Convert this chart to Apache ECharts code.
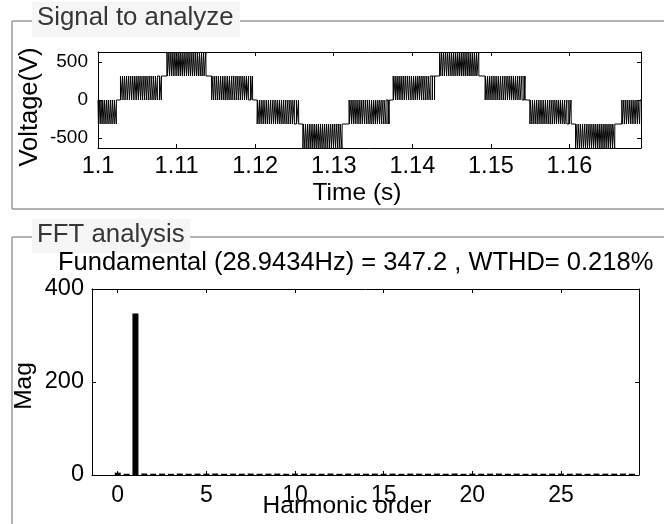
<!DOCTYPE html>
<html>
<head>
<meta charset="utf-8">
<script src="https://cdn.jsdelivr.net/npm/echarts@6/dist/echarts.min.js"></script>
<style>
  html, body { margin: 0; padding: 0; background: #fff; }
  #chart { width: 664px; height: 524px; }
</style>
</head>
<body>
<div id="chart"></div>
<script>
// ---- Signal window (switching instants in ms after 1.1 s) ----
const timeStart = 1.1;
const timeEnd = 1.1691;
const timeTicks = [1.1, 1.11, 1.12, 1.13, 1.14, 1.15, 1.16];
const voltTicks = [-500, 0, 500];
const voltMin = -630;
const voltMax = 630;

// The output starts on startLevel; inside each PWM segment it toggles between
// the level it entered on and that segment's alternate level.
const startLevel = 0;
const segAlt = [-315, 315, 630, 0, -315, -630, 0, 315, 630, 0, -315, -630, 0];
const segSwitch = [
  [0.05, 0.17, 0.28, 0.38, 0.52, 0.60, 0.77, 0.83, 1.02, 1.07, 1.28, 1.31, 1.54, 1.57, 1.80, 1.82, 2.07, 2.08, 2.33, 2.34],
  [2.86, 2.89, 3.12, 3.17, 3.38, 3.44, 3.64, 3.72, 3.90, 4.00, 4.16, 4.28, 4.42, 4.57, 4.68, 4.86, 4.94, 5.14, 5.20, 5.43, 5.46, 5.68, 5.73, 5.94, 5.98, 6.20, 6.23, 6.47, 6.50, 6.74, 6.76, 7.01, 7.03, 7.28, 7.30, 7.55, 7.56, 7.82, 7.84, 8.06, 8.08],
  [8.78, 8.82, 9.03, 9.10, 9.28, 9.38, 9.53, 9.66, 9.78, 9.94, 10.03, 10.21, 10.28, 10.48, 10.53, 10.74, 10.79, 11.00, 11.05, 11.27, 11.31, 11.53, 11.57, 11.78, 11.84, 12.03, 12.10, 12.28, 12.37, 12.53, 12.64, 12.77, 12.91, 13.01, 13.18, 13.25, 13.45, 13.50, 13.72, 13.75],
  [14.47, 14.50, 14.72, 14.78, 14.98, 15.05, 15.23, 15.32, 15.49, 15.60, 15.75, 15.88, 16.01, 16.16, 16.27, 16.45, 16.53, 16.73, 16.79, 17.02, 17.05, 17.28, 17.33, 17.55, 17.59, 17.81, 17.85, 18.08, 18.11, 18.35, 18.37, 18.62, 18.64, 18.89, 18.91, 19.16, 19.17, 19.43, 19.45, 19.66, 19.68],
  [20.26, 20.30, 20.51, 20.57, 20.77, 20.85, 21.03, 21.12, 21.29, 21.41, 21.55, 21.69, 21.81, 21.97, 22.07, 22.26, 22.33, 22.54, 22.59, 22.82, 22.86, 23.09, 23.13, 23.36, 23.40, 23.63, 23.66, 23.90, 23.93, 24.17, 24.19, 24.44, 24.46, 24.71, 24.73, 24.98, 24.99, 25.25, 25.27, 25.52, 25.54],
  [26.08, 26.12, 26.33, 26.40, 26.58, 26.68, 26.83, 26.96, 27.08, 27.24, 27.33, 27.52, 27.58, 27.79, 27.84, 28.05, 28.10, 28.32, 28.36, 28.58, 28.62, 28.84, 28.89, 29.09, 29.16, 29.34, 29.43, 29.59, 29.70, 29.83, 29.97, 30.07, 30.24, 30.32, 30.51, 30.57, 30.78, 30.81, 31.05, 31.07],
  [31.96, 31.99, 32.21, 32.27, 32.46, 32.54, 32.71, 32.81, 32.97, 33.09, 33.23, 33.36, 33.49, 33.64, 33.75, 33.93, 34.01, 34.21, 34.27, 34.49, 34.53, 34.76, 34.80, 35.03, 35.07, 35.30, 35.33, 35.57, 35.60, 35.84, 35.86, 36.11, 36.13, 36.38, 36.40, 36.65, 36.66, 36.92, 36.94, 37.05, 37.07],
  [37.57, 37.60, 37.82, 37.88, 38.07, 38.15, 38.32, 38.42, 38.58, 38.70, 38.84, 38.98, 39.10, 39.26, 39.36, 39.54, 39.62, 39.83, 39.88, 40.11, 40.15, 40.38, 40.42, 40.65, 40.69, 40.92, 40.95, 41.19, 41.22, 41.46, 41.48, 41.73, 41.75, 42.00, 42.02, 42.27, 42.28, 42.54, 42.56, 42.82, 42.84],
  [43.48, 43.52, 43.73, 43.80, 43.98, 44.08, 44.23, 44.36, 44.48, 44.64, 44.73, 44.92, 44.98, 45.19, 45.24, 45.45, 45.50, 45.72, 45.76, 45.98, 46.02, 46.24, 46.29, 46.49, 46.56, 46.74, 46.83, 46.99, 47.10, 47.23, 47.37, 47.47, 47.64, 47.72, 47.91, 47.97, 48.18, 48.21, 48.45, 48.47],
  [49.27, 49.30, 49.51, 49.57, 49.76, 49.84, 50.01, 50.11, 50.27, 50.39, 50.53, 50.66, 50.79, 50.94, 51.05, 51.23, 51.31, 51.51, 51.57, 51.79, 51.83, 52.06, 52.10, 52.33, 52.37, 52.60, 52.63, 52.87, 52.90, 53.14, 53.16, 53.41, 53.43, 53.68, 53.70, 53.95, 53.96, 54.22, 54.24, 54.34, 54.36],
  [54.97, 55.00, 55.22, 55.28, 55.47, 55.55, 55.72, 55.82, 55.98, 56.10, 56.24, 56.37, 56.50, 56.65, 56.76, 56.94, 57.02, 57.22, 57.28, 57.50, 57.54, 57.77, 57.81, 58.04, 58.08, 58.31, 58.34, 58.58, 58.61, 58.85, 58.87, 59.12, 59.14, 59.39, 59.41, 59.66, 59.67, 59.93, 59.95, 60.20, 60.22],
  [60.78, 60.82, 61.03, 61.10, 61.28, 61.38, 61.53, 61.66, 61.78, 61.94, 62.03, 62.22, 62.28, 62.49, 62.54, 62.75, 62.80, 63.02, 63.06, 63.28, 63.32, 63.54, 63.59, 63.79, 63.86, 64.04, 64.13, 64.29, 64.40, 64.53, 64.67, 64.77, 64.94, 65.02, 65.21, 65.27, 65.48, 65.51, 65.75, 65.77],
  [66.67, 66.70, 66.92, 66.98, 67.17, 67.25, 67.42, 67.52, 67.68, 67.80, 67.94, 68.07, 68.20, 68.35, 68.46, 68.64, 68.72, 68.92, 68.98]
];

// ---- FFT spectrum ----
const harmonicOrder = [0, 0.5, 1, 1.5, 2, 2.5, 3, 3.5, 4, 4.5, 5, 5.5, 6, 6.5, 7, 7.5, 8, 8.5, 9, 9.5,
  10, 10.5, 11, 11.5, 12, 12.5, 13, 13.5, 14, 14.5, 15, 15.5, 16, 16.5, 17, 17.5, 18, 18.5, 19, 19.5,
  20, 20.5, 21, 21.5, 22, 22.5, 23, 23.5, 24, 24.5, 25, 25.5, 26, 26.5, 27, 27.5, 28, 28.5, 29];
const magnitude = [5.0, 2.6, 347.2, 3.2, 2.8, 3.0, 2.6, 3.1, 2.7, 3.0, 2.9, 3.2, 2.6, 3.0, 2.8, 3.1, 2.7, 2.9, 3.0, 2.6,
  3.1, 2.8, 3.0, 2.7, 3.2, 2.6, 3.0, 2.9, 2.8, 3.1, 2.7, 3.0, 2.6, 3.1, 2.9, 2.8, 3.0, 2.7, 3.2, 2.6,
  3.0, 2.8, 2.9, 3.1, 2.7, 3.0, 2.6, 3.1, 2.8, 2.9, 3.0, 2.7, 3.1, 2.6, 3.0, 2.8, 2.9, 3.1, 2.7];
const harmonicTicks = [0, 5, 10, 15, 20, 25];
const magTicks = [0, 200, 400];
const fundamentalHz = '28.9434';
const fundamentalMag = 347.2;
const wthdPercent = '0.218';

// ---- build the stepped waveform from the switching instants ----
const signalPoints = [];
let level = startLevel;
signalPoints.push([timeStart, level]);
segSwitch.forEach((instants, k) => {
  const base = level;
  const alt = segAlt[k];
  instants.forEach(ms => {
    const t = timeStart + ms / 1000;
    signalPoints.push([t, level]);
    level = (level === base) ? alt : base;
    signalPoints.push([t, level]);
  });
});
signalPoints.push([timeEnd, level]);

const spectrum = harmonicOrder.map((h, i) => [h, magnitude[i]]);

const FONT = 'Liberation Sans, Arial, Helvetica, sans-serif';
const tickFont = size => ({ color: '#000', fontFamily: FONT, fontSize: size });
const blackLine = { show: true, onZero: false, lineStyle: { color: '#000', width: 1 } };
const fmtTime = v => String(Math.round(v * 100) / 100);
const innerTicks = vals => ({ inside: true, length: 4, customValues: vals, lineStyle: { color: '#000' } });

const chart = echarts.init(document.getElementById('chart'), null, { renderer: 'canvas' });

const frameColor = '#9a9a9a';
const frameLine = (x1, y1, x2, y2) => ({
  type: 'line', silent: true, z: 1,
  shape: { x1, y1, x2, y2 },
  style: { stroke: frameColor, lineWidth: 1.5 }
});
const labelBox = (x, y, w, h) => ({
  type: 'rect', silent: true, z: 3,
  shape: { x, y, width: w, height: h },
  style: { fill: '#f6f6f6' }
});
const text = (str, x, y, opts) => Object.assign({
  type: 'text', silent: true, z: 4, x, y,
  style: Object.assign({
    text: str, fill: '#000', fontFamily: FONT, fontSize: 24.5,
    align: 'center', verticalAlign: 'middle',
    textAlign: 'center', textVerticalAlign: 'middle'
  }, opts && opts.style)
}, opts && opts.el);

chart.setOption({
  animation: false,
  backgroundColor: '#fff',
  grid: [
    { left: 98, top: 52, width: 543, height: 96 },
    { left: 92, top: 289, width: 547, height: 186 }
  ],
  xAxis: [
    { type: 'value', gridIndex: 0, position: 'bottom', min: timeStart, max: timeEnd,
      axisLine: blackLine, splitLine: { show: false }, axisTick: innerTicks(timeTicks),
      axisLabel: Object.assign({ margin: 7, customValues: timeTicks, formatter: fmtTime }, tickFont(23.5)) },
    { type: 'value', gridIndex: 0, position: 'top', min: timeStart, max: timeEnd,
      axisLine: blackLine, splitLine: { show: false }, axisTick: innerTicks(timeTicks),
      axisLabel: { show: false } },
    { type: 'value', gridIndex: 1, position: 'bottom', min: -1.45, max: 29.4,
      axisLine: blackLine, splitLine: { show: false }, axisTick: innerTicks(harmonicTicks),
      axisLabel: Object.assign({ margin: 9, customValues: harmonicTicks }, tickFont(23)) },
    { type: 'value', gridIndex: 1, position: 'top', min: -1.45, max: 29.4,
      axisLine: blackLine, splitLine: { show: false }, axisTick: innerTicks(harmonicTicks),
      axisLabel: { show: false } }
  ],
  yAxis: [
    { type: 'value', gridIndex: 0, position: 'left', min: voltMin, max: voltMax,
      axisLine: blackLine, splitLine: { show: false }, axisTick: innerTicks(voltTicks),
      axisLabel: Object.assign({ margin: 10, customValues: voltTicks }, tickFont(19)) },
    { type: 'value', gridIndex: 0, position: 'right', min: voltMin, max: voltMax,
      axisLine: blackLine, splitLine: { show: false }, axisTick: innerTicks(voltTicks),
      axisLabel: { show: false } },
    { type: 'value', gridIndex: 1, position: 'left', min: 0, max: 400, interval: 200,
      axisLine: blackLine, splitLine: { show: false }, axisTick: innerTicks(magTicks),
      axisLabel: Object.assign({ margin: 8, customValues: magTicks }, tickFont(23.5)) },
    { type: 'value', gridIndex: 1, position: 'right', min: 0, max: 400, interval: 200,
      axisLine: blackLine, splitLine: { show: false }, axisTick: innerTicks(magTicks),
      axisLabel: { show: false } }
  ],
  series: [
    { type: 'line', name: 'signal', xAxisIndex: 0, yAxisIndex: 0, data: signalPoints,
      showSymbol: false, symbol: 'none', clip: true, sampling: null,
      lineStyle: { color: '#000', width: 1 } },
    { type: 'bar', name: 'spectrum', xAxisIndex: 2, yAxisIndex: 2, data: spectrum,
      barWidth: 6, itemStyle: { color: '#000' } }
  ],
  graphic: [
    // group frames
    frameLine(12, 21, 664, 21),
    frameLine(12, 21, 12, 209),
    frameLine(12, 209, 664, 209),
    frameLine(12, 237, 664, 237),
    frameLine(12, 237, 12, 524),
    // axis titles and spectrum headline
    text('Voltage(V)', 30, 107, { el: { rotation: Math.PI / 2 }, style: { fontSize: 25.5 } }),
    text('Time (s)', 357, 193),
    text('Mag', 24, 386, { el: { rotation: Math.PI / 2 } }),
    text('Harmonic order', 347, 506),
    text('Fundamental (' + fundamentalHz + 'Hz) = ' + fundamentalMag + ' , WTHD= ' + wthdPercent + '%', 58, 263,
      { style: { align: 'left', textAlign: 'left', fontSize: 25.5 } }),
    // group captions
    labelBox(32, 2, 208, 35),
    labelBox(32, 219, 158, 34),
    text('Signal to analyze', 37, 18,
      { el: { z: 5 }, style: { align: 'left', textAlign: 'left', fontSize: 25.8, fill: '#363636' } }),
    text('FFT analysis', 37, 235,
      { el: { z: 5 }, style: { align: 'left', textAlign: 'left', fontSize: 25.8, fill: '#363636' } })
  ]
});
</script>
</body>
</html>
